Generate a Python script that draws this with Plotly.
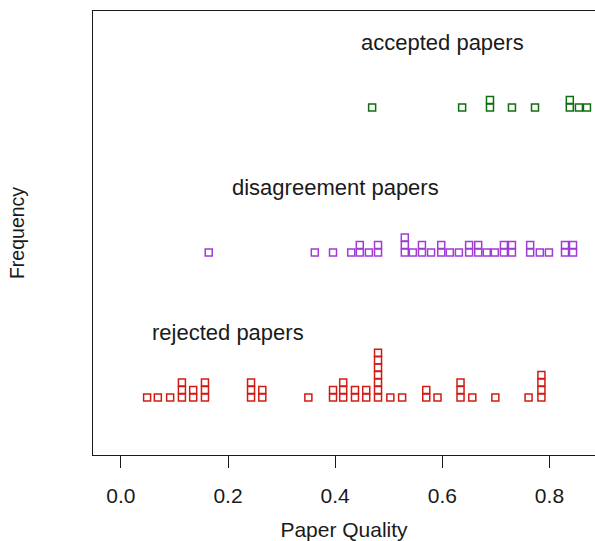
import plotly.graph_objects as go

# ---- data (paper quality scores, repeated values stack) ----
rejected = [0.049, 0.069, 0.092,
            0.114, 0.114, 0.114,
            0.135, 0.135,
            0.157, 0.157, 0.157,
            0.243, 0.243, 0.243,
            0.264, 0.264,
            0.350,
            0.396, 0.396,
            0.415, 0.415, 0.415,
            0.437, 0.437,
            0.458, 0.458,
            0.480, 0.480, 0.480, 0.480, 0.480, 0.480, 0.480,
            0.503, 0.525,
            0.570, 0.570,
            0.591,
            0.634, 0.634, 0.634,
            0.656, 0.699, 0.761,
            0.785, 0.785, 0.785, 0.785]

disagreement = [0.164, 0.362, 0.396,
                0.430, 0.446, 0.446, 0.463, 0.480, 0.480,
                0.530, 0.530, 0.530,
                0.545,
                0.562, 0.562,
                0.579,
                0.598, 0.598,
                0.614, 0.631,
                0.650, 0.650,
                0.667, 0.667,
                0.683, 0.698,
                0.715, 0.715,
                0.730, 0.730,
                0.764, 0.764,
                0.782, 0.799,
                0.829, 0.829,
                0.844, 0.844]

accepted = [0.469, 0.637, 0.689, 0.689, 0.730, 0.773, 0.838, 0.838, 0.855, 0.870]

group_names = ["rejected papers", "disagreement papers", "accepted papers"]
group_levels = [1, 2, 3]
label_x = [0.2, 0.4, 0.6]
x_ticks = [0.0, 0.2, 0.4, 0.6, 0.8]
x_tick_text = ["0.0", "0.2", "0.4", "0.6", "0.8"]

colors = ["#d01c14", "#a03cd2", "#0f6e0f"]
STEP = 0.0514
FONT = "Liberation Sans, Arial, Helvetica, sans-serif"


def stack(vals, base):
    xs, ys, seen = [], [], {}
    for v in vals:
        k = seen.get(v, 0)
        seen[v] = k + 1
        xs.append(v)
        ys.append(base + k * STEP)
    return xs, ys


fig = go.Figure()
for vals, lvl, col, name in zip([rejected, disagreement, accepted], group_levels, colors, group_names):
    xs, ys = stack(vals, lvl)
    fig.add_trace(go.Scatter(
        x=xs, y=ys, mode="markers", name=name, showlegend=False,
        marker=dict(symbol="square-open", size=7, color=col,
                    line=dict(width=1.5, color=col)),
        hoverinfo="x",
    ))

for name, lvl, lx in zip(group_names, group_levels, label_x):
    fig.add_annotation(x=lx, y=lvl + 0.45, xref="x", yref="y", text=name,
                       showarrow=False, font=dict(family=FONT, size=22, color="#1a1a1a"),
                       xanchor="center", yanchor="middle")

fig.update_layout(
    width=595, height=541,
    margin=dict(l=93, r=0, t=11, b=86),
    paper_bgcolor="white", plot_bgcolor="white",
    font=dict(family=FONT, color="#1a1a1a"),
    xaxis=dict(
        range=[-0.052, 0.885],
        tickmode="array", tickvals=x_ticks, ticktext=x_tick_text,
        ticks="outside", ticklen=12, tickwidth=1.3, tickcolor="#1a1a1a",
        ticklabelstandoff=10,
        tickfont=dict(size=21, family=FONT, color="#1a1a1a"),
        showline=True, linecolor="#1a1a1a", linewidth=1.3, mirror=True,
        showgrid=False, zeroline=False,
        title=dict(text="Paper Quality", font=dict(size=21, family=FONT, color="#1a1a1a"), standoff=15),
    ),
    yaxis=dict(
        range=[0.603, 3.665],
        showticklabels=False, ticks="",
        showline=True, linecolor="#1a1a1a", linewidth=1.3, mirror=False,
        showgrid=False, zeroline=False,
        title=dict(text="Frequency", font=dict(size=19.5, family=FONT, color="#1a1a1a"), standoff=62),
    ),
)

# remove the page's default body margin so the figure fills the 595x541 window exactly
fig.write_html("out.html",
               config={"displayModeBar": False},
               post_script="document.body.style.margin='0';document.body.style.overflow='hidden';")
